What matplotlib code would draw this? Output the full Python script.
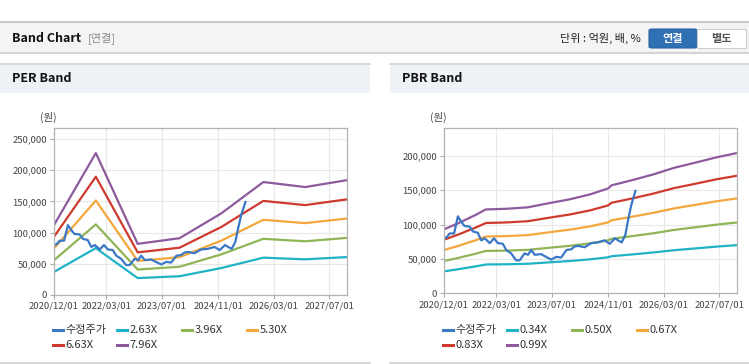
import pandas as pd
import matplotlib.pyplot as plt
import matplotlib.dates as mdates
from matplotlib.patches import Rectangle, FancyBboxPatch
from matplotlib.lines import Line2D
from matplotlib.ticker import FuncFormatter

plt.rcParams['font.family'] = ['Noto Sans CJK KR', 'DejaVu Sans']

W, H = 749, 364

# adjusted share price (won)
price_dates = ['2020-12-01', '2020-12-22', '2021-01-19', '2021-02-27', '2021-04-01', '2021-05-01',
               '2021-05-28', '2021-07-13', '2021-08-10', '2021-09-22', '2021-10-22', '2021-11-22',
               '2022-01-04', '2022-02-10', '2022-03-16', '2022-04-28', '2022-05-28', '2022-07-10',
               '2022-08-22', '2022-09-22', '2022-11-04', '2022-12-04', '2023-01-01', '2023-02-01',
               '2023-03-28', '2023-05-10', '2023-06-25', '2023-08-07', '2023-09-19', '2023-11-04',
               '2023-12-16', '2024-01-13', '2024-02-13', '2024-04-10', '2024-06-07', '2024-08-04',
               '2024-10-01', '2024-11-16', '2025-01-01', '2025-01-28', '2025-02-28', '2025-04-01',
               '2025-04-22', '2025-05-22', '2025-06-28']
price = [80000, 81000, 87000, 87000, 112000, 104000, 98000, 97000, 90000, 88000, 77000, 80000,
         73000, 80000, 73000, 72000, 63000, 58000, 48000, 48000, 58000, 56000, 63000, 56000,
         57000, 53000, 49000, 53000, 52000, 63000, 64000, 68000, 69000, 67000, 73000, 74000,
         77000, 72000, 80000, 77000, 74000, 85000, 104000, 128000, 149000]

# PER band: price at 1X (EPS) per date, and multiples
per_dates = ['2020-12-01', '2021-12-01', '2022-12-01', '2023-12-01', '2024-12-01',
             '2025-12-01', '2026-12-01', '2027-12-01']
per_base = [14070, 28580, 10300, 11430, 16460, 22740, 21730, 23120]
per_multiples = [2.63, 3.96, 5.30, 6.63, 7.96]

# PBR band: price at 1X (BPS) per date, and multiples
pbr_dates = ['2020-12-01', '2021-04-01', '2021-09-01', '2021-12-01', '2022-06-01', '2022-12-01',
             '2023-06-01', '2023-12-01', '2024-06-01', '2024-11-01', '2024-12-01', '2025-06-01',
             '2025-12-01', '2026-06-01', '2026-12-01', '2027-06-01', '2027-12-01']
pbr_base = [93900, 102700, 115000, 123200, 124200, 126300, 132300, 138000, 145500, 154000,
            158600, 166300, 174700, 184400, 191900, 199600, 206100]
pbr_multiples = [0.34, 0.50, 0.67, 0.83, 0.99]

xtick_labels = ['2020/12/01', '2022/03/01', '2023/07/01', '2024/11/01', '2026/03/01', '2027/07/01']

price_color = '#3a78c6'
band_colors = ['#1fb3c6', '#8fb556', '#f4a73b', '#cf3a2e', '#8d5a9e']


def px(x, y):
    return x / W, 1 - y / H


fig = plt.figure(figsize=(W / 100, H / 100), dpi=100)
fig.patch.set_facecolor('white')

# top header bar
fig.add_artist(Rectangle(px(0, 53), 1, 31 / H, transform=fig.transFigure,
                         facecolor='#f4f4f4', edgecolor='none'))
fig.add_artist(Line2D([0, 1], [px(0, 21.5)[1]] * 2, color='#bdbdbd', lw=1.2))
fig.add_artist(Line2D([0, 1], [px(0, 53)[1]] * 2, color='#d4d4d4', lw=1.5))
fig.text(*px(12, 38), 'Band Chart', fontsize=9, fontweight='bold', va='center', color='#111111')
fig.text(*px(88, 38), '[연결]', fontsize=8, va='center', color='#8a8a8a')
fig.text(*px(641, 38), '단위 : 억원, 배, %', fontsize=8, va='center', ha='right', color='#222222')
fig.add_artist(FancyBboxPatch(px(649, 48), 48 / W, 19 / H, transform=fig.transFigure,
                              boxstyle='round,pad=0,rounding_size=0.004',
                              facecolor='#2f70b5', edgecolor='#2a64a3', lw=0.8))
fig.text(*px(673, 38.5), '연결', fontsize=8, fontweight='bold', va='center', ha='center', color='white')
fig.add_artist(Rectangle(px(697, 48), 49 / W, 19 / H, transform=fig.transFigure,
                         facecolor='white', edgecolor='#cfcfcf', lw=0.8))
fig.text(*px(721, 38.5), '별도', fontsize=8, fontweight='bold', va='center', ha='center', color='#555555')

# panel headers
for x0, x1, title in [(0, 370, 'PER Band'), (390, 749, 'PBR Band')]:
    fig.add_artist(Rectangle(px(x0, 93), (x1 - x0) / W, 30 / H, transform=fig.transFigure,
                             facecolor='#eef2f7', edgecolor='none'))
    fig.add_artist(Line2D([x0 / W, x1 / W], [px(0, 63.5)[1]] * 2, color='#d2d2d2', lw=1.2))
    fig.add_artist(Line2D([x0 / W, x1 / W], [px(0, 362.5)[1]] * 2, color='#d2d2d2', lw=1.2))
    fig.text(*px(x0 + 12, 79), title, fontsize=9, fontweight='bold', va='center', color='#111111')


def draw_panel(rect, band_dates, base, multiples, ymax, yticks, unit_xy, legend_x0):
    ax = fig.add_axes(rect)
    bd = pd.to_datetime(band_dates)
    for m, c in zip(multiples, band_colors):
        ax.plot(bd, [b * m for b in base], color=c, lw=1.6, solid_capstyle='butt')
    ax.plot(pd.to_datetime(price_dates), price, color=price_color, lw=1.6)

    ax.set_xlim(pd.Timestamp('2020-12-01'), pd.Timestamp('2027-12-01'))
    ax.set_ylim(0, ymax)
    ticks = pd.to_datetime([s.replace('/', '-') for s in xtick_labels])
    ax.set_xticks(ticks)
    ax.set_xticklabels(xtick_labels)
    ax.set_yticks(yticks)
    ax.yaxis.set_major_formatter(FuncFormatter(lambda v, p: f'{int(v):,}'))
    ax.tick_params(labelsize=6.8, colors='#aaaaaa', labelcolor='#444444', length=3, width=0.8, pad=2)
    ax.grid(True, color='#e8e8e8', lw=0.8)
    ax.set_axisbelow(True)
    for s in ax.spines.values():
        s.set_color('#b4b4b4')
        s.set_linewidth(0.9)
    fig.text(*px(*unit_xy), '(원)', fontsize=7.5, va='center', color='#444444')

    # legend
    labels = ['수정주가'] + [f'{m:.2f}X' for m in multiples]
    colors = [price_color] + band_colors
    cols = [0, 64, 129, 194]
    for i, (lab, c) in enumerate(zip(labels, colors)):
        row, col = divmod(i, 4)
        x = legend_x0 + cols[col]
        y = 330 + row * 15
        fig.add_artist(Line2D([x / W, (x + 10) / W], [px(0, y)[1]] * 2, color=c, lw=2.2))
        fig.text(*px(x + 12.5, y), lab, fontsize=8, va='center', color='#333333')
    return ax


draw_panel([54 / W, 1 - 295 / H, 293 / W, 167 / H], per_dates, per_base, per_multiples,
           267600, range(0, 250001, 50000), (40, 117), 53)
draw_panel([444 / W, 1 - 293.3 / H, 293 / W, 165 / H], pbr_dates, pbr_base, pbr_multiples,
           240000, range(0, 200001, 50000), (430, 117), 443)

plt.savefig('out.png', dpi=100)
